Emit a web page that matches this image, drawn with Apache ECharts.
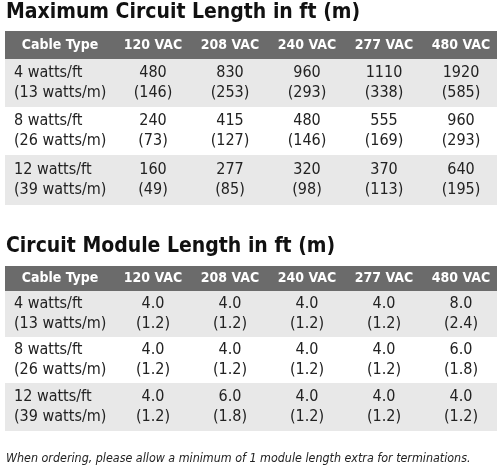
<!DOCTYPE html>
<html><head><meta charset="utf-8">
<script src="https://cdn.jsdelivr.net/npm/echarts@6/dist/echarts.min.js"></script>
<style>html,body{margin:0;padding:0;background:#fff}#main{width:500px;height:471px}</style>
</head><body><div id="main"></div>
<script>
var headers = ['Cable Type', '120 VAC', '208 VAC', '240 VAC', '277 VAC', '480 VAC'];
var cableTypes = [['4 watts/ft', '(13 watts/m)'], ['8 watts/ft', '(26 watts/m)'], ['12 watts/ft', '(39 watts/m)']];
var maxLenFt = [[480, 830, 960, 1110, 1920], [240, 415, 480, 555, 960], [160, 277, 320, 370, 640]];
var maxLenM = [[146, 253, 293, 338, 585], [73, 127, 146, 169, 293], [49, 85, 98, 113, 195]];
var modFt = [['4.0', '4.0', '4.0', '4.0', '8.0'], ['4.0', '4.0', '4.0', '4.0', '6.0'], ['4.0', '6.0', '4.0', '4.0', '4.0']];
var modM = [['1.2', '1.2', '1.2', '1.2', '2.4'], ['1.2', '1.2', '1.2', '1.2', '1.8'], ['1.2', '1.8', '1.2', '1.2', '1.2']];
var titles = ['Maximum Circuit Length in ft (m)', 'Circuit Module Length in ft (m)'];
var footnote = 'When ordering, please allow a minimum of 1 module length extra for terminations.';

var FONT = '"Liberation Sans Narrow", "DejaVu Sans Condensed", "Roboto", sans-serif';
var colX = [60, 153, 230, 307, 384, 461];
var els = [];

function table(title, titleY, headTop, rowTops, rowH, ft, m) {
  els.push({type: 'text', left: 6, top: titleY, style: {text: title, font: 'bold 21px ' + FONT, fill: '#111'}});
  els.push({type: 'rect', shape: {x: 5, y: headTop, width: 492, height: rowTops[0] - headTop}, style: {fill: '#6b6b6b'}});
  headers.forEach(function(h, i) {
    els.push({type: 'text', x: colX[i], y: (headTop + rowTops[0]) / 2, style: {text: h, font: 'bold 14px ' + FONT, fill: '#fff', align: 'center', verticalAlign: 'middle'}});
  });
  rowTops.forEach(function(top, r) {
    if (r !== 1) els.push({type: 'rect', shape: {x: 5, y: top, width: 492, height: rowH[r]}, style: {fill: '#e8e8e8'}});
    var cy = top + rowH[r] / 2;
    els.push({type: 'text', x: 14, y: cy - 10, style: {text: cableTypes[r][0], font: '16px ' + FONT, fill: '#222', verticalAlign: 'middle'}});
    els.push({type: 'text', x: 14, y: cy + 10, style: {text: cableTypes[r][1], font: '16px ' + FONT, fill: '#222', verticalAlign: 'middle'}});
    for (var c = 0; c < 5; c++) {
      els.push({type: 'text', x: colX[c + 1], y: cy - 10, style: {text: String(ft[r][c]), font: '16px ' + FONT, fill: '#222', align: 'center', verticalAlign: 'middle'}});
      els.push({type: 'text', x: colX[c + 1], y: cy + 10, style: {text: '(' + m[r][c] + ')', font: '16px ' + FONT, fill: '#222', align: 'center', verticalAlign: 'middle'}});
    }
  });
}

table(titles[0], 2, 31, [59, 107, 155], [48, 48, 50], maxLenFt, maxLenM);
table(titles[1], 236, 266, [291, 337, 383], [46, 46, 48], modFt, modM);
els.push({type: 'text', left: 6, top: 453, style: {text: footnote, font: 'italic 12.4px ' + FONT, fill: '#222'}});

var chart = echarts.init(document.getElementById('main'));
chart.setOption({animation: false, graphic: {elements: els}});
</script></body></html>
